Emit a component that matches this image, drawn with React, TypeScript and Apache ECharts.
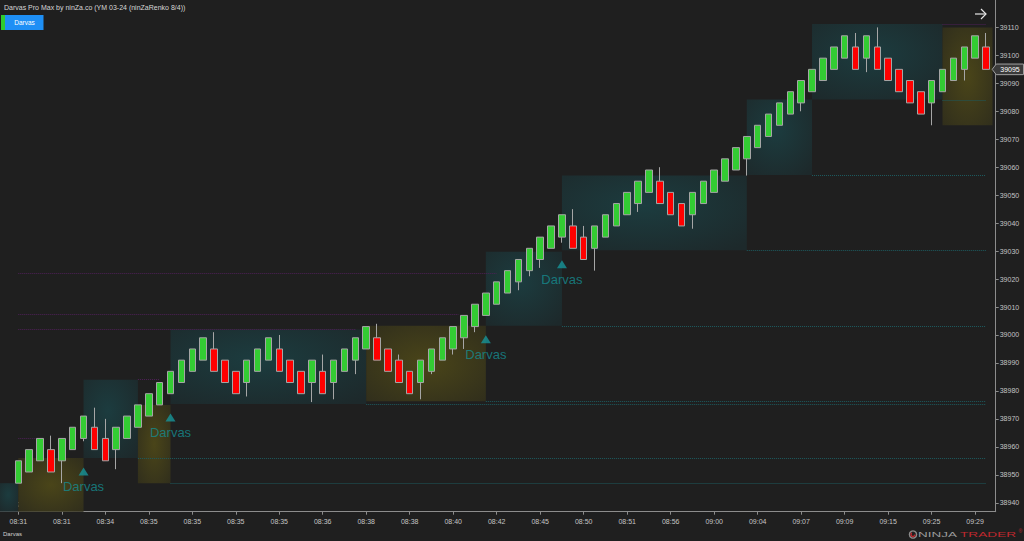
import React, { useEffect, useRef } from "react";
import * as echarts from "echarts";

const FONT = "'Liberation Sans', Arial, sans-serif";
const TITLE = "Darvas Pro Max by ninZa.co (YM 03-24 (ninZaRenko 8/4))";
const BRICK_SIZE = 8;

// Renko brick tops (price), one per bar
const brickTop = [
  38955, 38959, 38963, 38959, 38963, 38967, 38971, 38967, 38963, 38967,
  38971, 38975, 38979, 38983, 38987, 38991, 38995, 38999, 38995, 38991,
  38987, 38991, 38995, 38999, 38995, 38991, 38987, 38991, 38987, 38991,
  38995, 38999, 39003, 38999, 38995, 38991, 38987, 38991, 38995, 38999,
  39003, 39007, 39011, 39015, 39019, 39023, 39027, 39031, 39035, 39039,
  39043, 39039, 39035, 39039, 39043, 39047, 39051, 39055, 39059, 39055,
  39051, 39047, 39051, 39055, 39059, 39063, 39067, 39071, 39075, 39079,
  39083, 39087, 39091, 39095, 39099, 39103, 39107, 39103, 39107, 39103,
  39099, 39095, 39091, 39087, 39091, 39095, 39099, 39103, 39107, 39103,
];
// 1 = up (green) brick, 0 = down (red) brick
const brickUp = [
  1, 1, 1, 0, 1, 1, 1, 0, 0, 1,
  1, 1, 1, 1, 1, 1, 1, 1, 0, 0,
  0, 1, 1, 1, 0, 0, 0, 1, 0, 1,
  1, 1, 1, 0, 0, 0, 0, 1, 1, 1,
  1, 1, 1, 1, 1, 1, 1, 1, 1, 1,
  1, 0, 0, 1, 1, 1, 1, 1, 1, 0,
  0, 0, 1, 1, 1, 1, 1, 1, 1, 1,
  1, 1, 1, 1, 1, 1, 1, 0, 1, 0,
  0, 0, 0, 0, 1, 1, 1, 1, 1, 0,
];
// upper wicks
const wickHighBars = [3, 7, 8, 18, 24, 28, 33, 35, 51, 52, 59, 77, 79, 89];
const wickHighValues = [38964, 38974, 38970, 39001, 39000, 38993, 39004, 38993, 39045, 39039, 39060, 39108, 39110, 39108];
// lower wicks
const wickLowBars = [4, 6, 9, 21, 27, 29, 31, 37, 38, 40, 41, 42, 46, 47, 48, 50, 53, 57, 62, 67, 72, 78, 84, 87];
const wickLowValues = [38947, 38962, 38952, 38978, 38976, 38977, 38986, 38977, 38986, 38993, 38995, 39001, 39016, 39021, 39024, 39033, 39023, 39044, 39038, 39057, 39080, 39094, 39075, 39091];

// x-axis: one label every 4 bars
const LABEL_STEP = 4;
const timeLabels = [
  "08:31", "08:31", "08:34", "08:35", "08:35", "08:35", "08:35", "08:36", "08:38", "08:38", "08:40", "08:42",
  "08:45", "08:50", "08:51", "08:56", "09:00", "09:04", "09:07", "09:09", "09:15", "09:25", "09:29",
];
const priceTicks = [
  38940, 38950, 38960, 38970, 38980, 38990, 39000, 39010, 39020, 39030,
  39040, 39050, 39060, 39070, 39080, 39090, 39100, 39110,
];

const X_MIN = -1.683;
const X_MAX = 89.892;
const Y_MIN = 38936.8;
const Y_MAX = 39119.8;

// Darvas boxes: start bar, end bar, top price, bottom price, kind (0 teal, 1 gold)
const boxStart = [X_MIN, 0, 6, 11, 14, 32, 43, 50, 67, 73, 85];
const boxEnd = [0, 6, 11, 14, 32, 43, 50, 67, 73, 85, 89.6];
const boxTop = [38947, 38956, 38984, 38975, 39002, 39003.3, 39029.8, 39057, 39084.2, 39111.2, 39110];
const boxBottom = [38930, 38930, 38956, 38947, 38975.3, 38976.3, 39003.3, 39030.3, 39057.2, 39084.2, 39075];
const boxKind = [0, 1, 0, 1, 0, 1, 0, 0, 0, 0, 1];

// extended box levels: start bar, end bar, price, kind (0 teal support, 1 purple)
const levelStart = [11, 14, 32, 43, 50, 67, 73, 85, 85, 0, 0, 0, 0, 11];
const levelEnd = [89, 89, 89, 89, 89, 89, 89, 89, 89, 40.5, 31, 44, 1.8, 13];
const levelPrice = [38956, 38947, 38975.3, 38976.3, 39003.3, 39030.3, 39057.2, 39084.2, 39111.2, 39007.4, 39002.3, 39022.1, 38963.3, 38984.2];
const levelKind = [0, 0, 0, 0, 0, 0, 0, 0, 1, 1, 1, 1, 1, 1];

// Darvas signals
const signalBars = [6, 14, 43, 50];
const signalPrices = [38951.2, 38970.5, 38998.5, 39025.3];

export default function App() {
  const ref = useRef<HTMLDivElement>(null);

  useEffect(() => {
    const el = ref.current!;
    const chart = echarts.init(el, null, { renderer: "svg" });

    const candles = brickTop.map((top, i) => {
      const up = brickUp[i] === 1;
      const bottom = top - BRICK_SIZE;
      const hi = wickHighBars.indexOf(i);
      const lo = wickLowBars.indexOf(i);
      const high = hi >= 0 ? wickHighValues[hi] : top;
      const low = lo >= 0 ? wickLowValues[lo] : bottom;
      return up ? [i, bottom, top, low, high] : [i, top, bottom, low, high];
    });

    const boxes = boxStart.map((s, i) => [s, boxEnd[i], boxTop[i], boxBottom[i], boxKind[i]]);
    const levels = levelStart.map((s, i) => [s, levelEnd[i], levelPrice[i], levelKind[i]]);

    const tealGrad = () =>
      new echarts.graphic.RadialGradient(0.45, 0.4, 0.75, [
        { offset: 0, color: "#1c3c3f" },
        { offset: 1, color: "#1d292b" },
      ]);
    const goldGrad = () =>
      new echarts.graphic.RadialGradient(0.5, 0.5, 0.75, [
        { offset: 0, color: "#4a4519" },
        { offset: 1, color: "#2f2d1c" },
      ]);

    const xTicks = timeLabels.map((_, i) => i * LABEL_STEP);

    chart.setOption({
      animation: false,
      backgroundColor: "#1f1f1f",
      grid: { left: 0, right: 28.3, top: 0, bottom: 29.3, outerBoundsMode: "none" },
      xAxis: {
        type: "value",
        min: X_MIN,
        max: X_MAX,
        splitLine: { show: false },
        axisLine: { show: true, onZero: false, lineStyle: { color: "#8c8c8c", width: 1 } },
        axisTick: { show: true, length: 3, customValues: xTicks, lineStyle: { color: "#8c8c8c" } },
        axisLabel: {
          show: true,
          customValues: xTicks,
          margin: 6,
          color: "#c4c4c4",
          fontSize: 7,
          fontFamily: FONT,
          formatter: (v: number) => timeLabels[Math.round(v / LABEL_STEP)] ?? "",
        },
      },
      yAxis: {
        type: "value",
        position: "right",
        min: Y_MIN,
        max: Y_MAX,
        splitLine: { show: false },
        axisLine: { show: true, onZero: false, lineStyle: { color: "#8c8c8c", width: 1 } },
        axisTick: { show: true, length: 3, customValues: priceTicks, lineStyle: { color: "#8c8c8c" } },
        axisLabel: {
          show: true,
          customValues: priceTicks,
          margin: 4,
          color: "#c4c4c4",
          fontSize: 7,
          fontFamily: FONT,
          formatter: (v: number) => String(Math.round(v)),
        },
      },
      series: [
        {
          type: "custom",
          z: 1,
          silent: true,
          data: boxes,
          renderItem: (params: any, api: any) => {
            const p0 = api.coord([api.value(0), api.value(2)]);
            const p1 = api.coord([api.value(1), api.value(3)]);
            const cs = params.coordSys;
            const rect = echarts.graphic.clipRectByRect(
              { x: p0[0], y: p0[1], width: p1[0] - p0[0], height: p1[1] - p0[1] },
              { x: cs.x, y: cs.y, width: cs.width, height: cs.height }
            );
            if (!rect) return;
            return {
              type: "rect",
              shape: rect,
              style: { fill: api.value(4) === 1 ? goldGrad() : tealGrad() },
            };
          },
        },
        {
          type: "custom",
          z: 2,
          silent: true,
          data: levels,
          renderItem: (_params: any, api: any) => {
            const a = api.coord([api.value(0), api.value(2)]);
            const b = api.coord([api.value(1), api.value(2)]);
            const y = Math.round(a[1]) + 0.5;
            return {
              type: "line",
              shape: { x1: a[0], y1: y, x2: b[0], y2: y },
              style: {
                stroke: api.value(3) === 1 ? "#4f2158" : "#1d5b5f",
                lineWidth: 1,
                lineDash: [1, 1],
              },
            };
          },
        },
        {
          type: "candlestick",
          z: 3,
          data: candles,
          encode: { x: 0, y: [1, 2, 3, 4] },
          barWidth: 7,
          itemStyle: {
            color: "#33cc33",
            color0: "#ff0000",
            borderColor: "#a6a6a6",
            borderColor0: "#a6a6a6",
            borderWidth: 1,
          },
        },
        {
          type: "scatter",
          z: 4,
          data: signalBars.map((b, i) => [b, signalPrices[i]]),
          symbol: "triangle",
          symbolSize: [10, 8],
          itemStyle: { color: "#17959a" },
          label: {
            show: true,
            position: "bottom",
            distance: 5,
            formatter: "Darvas",
            color: "#168b8f",
            fontSize: 13,
            fontFamily: FONT,
          },
        },
      ],
    });

    const lastClose = candles[candles.length - 1][2] as number;
    const tagY = chart.convertToPixel({ yAxisIndex: 0 }, lastClose) as number;
    const axisX = chart.convertToPixel({ xAxisIndex: 0 }, X_MAX) as number;

    chart.setOption({
      graphic: [
        {
          type: "text",
          x: 4,
          y: 7,
          style: { text: TITLE, fill: "#d6d6d6", fontSize: 7, fontFamily: FONT, verticalAlign: "middle" },
        },
        { type: "rect", shape: { x: 1, y: 15, width: 4, height: 15 }, style: { fill: "#2fcc2f" } },
        { type: "rect", shape: { x: 5, y: 15, width: 38.5, height: 15 }, style: { fill: "#1e8ff5" } },
        {
          type: "text",
          x: 24.5,
          y: 22.5,
          style: { text: "Darvas", fill: "#ffffff", fontSize: 6.5, fontFamily: FONT, align: "center", verticalAlign: "middle" },
        },
        {
          type: "group",
          children: [
            { type: "line", shape: { x1: 975, y1: 14, x2: 986, y2: 14 }, style: { stroke: "#e6e6e6", lineWidth: 1.2 } },
            { type: "polyline", shape: { points: [[981, 9], [986, 14], [981, 19]] }, style: { stroke: "#e6e6e6", lineWidth: 1.2, fill: null } },
          ],
        },
        {
          type: "text",
          x: 2,
          y: 504,
          style: { text: "© 2024 NinjaTrader, LLC", fill: "#e2e2e2", fontSize: 7, fontFamily: FONT, verticalAlign: "middle" },
        },
        {
          type: "text",
          x: 3,
          y: 534,
          style: { text: "Darvas", fill: "#d0d0d0", fontSize: 6, fontFamily: FONT, verticalAlign: "middle" },
        },
        {
          type: "polygon",
          z: 100,
          shape: {
            points: [
              [axisX - 3.5, tagY],
              [axisX + 0.5, tagY - 5.3],
              [1023.5, tagY - 5.3],
              [1023.5, tagY + 5.3],
              [axisX + 0.5, tagY + 5.3],
            ],
          },
          style: { fill: "#3b3b3b", stroke: "#a0a0a0", lineWidth: 1 },
        },
        {
          type: "text",
          z: 101,
          x: 1010,
          y: tagY,
          style: { text: String(lastClose), fill: "#ffffff", fontSize: 7, fontFamily: FONT, align: "center", verticalAlign: "middle" },
        },
        { type: "circle", shape: { cx: 913, cy: 534.5, r: 3.6 }, style: { fill: null, stroke: "#8a8a8a", lineWidth: 1.4 } },
        { type: "arc", shape: { cx: 913, cy: 534.5, r: 2, startAngle: 0, endAngle: Math.PI * 1.3 }, style: { fill: null, stroke: "#c0282e", lineWidth: 1.4 } },
        {
          type: "text",
          x: 918,
          y: 534.5,
          scaleX: 1.5,
          scaleY: 0.85,
          style: { text: "NINJA", fill: "#9a9a9a", fontSize: 9, fontFamily: FONT, verticalAlign: "middle" },
        },
        {
          type: "text",
          x: 960,
          y: 534.5,
          scaleX: 1.52,
          scaleY: 0.85,
          style: { text: "TRADER", fill: "#c0282e", fontSize: 9, fontFamily: FONT, verticalAlign: "middle" },
        },
        {
          type: "text",
          x: 1018.5,
          y: 531,
          style: { text: "®", fill: "#c0282e", fontSize: 5, fontFamily: FONT, verticalAlign: "middle" },
        },
      ],
    });

    return () => chart.dispose();
  }, []);

  return (
    <div
      ref={ref}
      style={{ position: "fixed", left: 0, top: 0, width: 1024, height: 541, background: "#1f1f1f" }}
    />
  );
}
